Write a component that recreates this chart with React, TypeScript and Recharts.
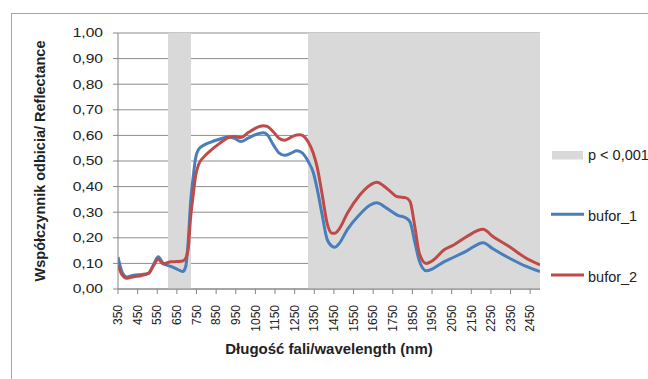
import React from "react";
import {
  ComposedChart,
  Line,
  XAxis,
  YAxis,
  CartesianGrid,
  ReferenceArea,
  Legend,
} from "recharts";

const wavelengths = [
  350, 370, 395, 430, 470, 505, 530, 555, 580, 620, 650, 680, 695, 708, 720, 732, 745, 760, 790, 820,
  870, 912, 945, 975, 1015, 1065, 1090, 1110, 1140, 1170, 1200, 1235, 1260, 1280, 1300, 1320, 1345,
  1365, 1390, 1415, 1440, 1455, 1475, 1520, 1580, 1635, 1668, 1720, 1775, 1815, 1838, 1863, 1885,
  1920, 1955, 2010, 2060, 2125, 2210, 2260, 2345, 2430, 2500,
];
const bufor1 = [
  0.125, 0.068, 0.047, 0.054, 0.057, 0.061, 0.094, 0.126, 0.1, 0.088, 0.078, 0.068, 0.088, 0.19, 0.34,
  0.43, 0.51, 0.545, 0.563, 0.573, 0.586, 0.595, 0.588, 0.576, 0.59, 0.607, 0.61, 0.603, 0.565, 0.532,
  0.522, 0.532, 0.54, 0.536, 0.522, 0.497, 0.455, 0.39, 0.29, 0.195, 0.167, 0.163, 0.176, 0.234, 0.29,
  0.328, 0.337, 0.315, 0.288, 0.278, 0.262, 0.18, 0.11, 0.071, 0.08, 0.106, 0.124, 0.148, 0.181, 0.157,
  0.12, 0.088, 0.068,
];
const bufor2 = [
  0.094, 0.056, 0.042, 0.048, 0.053, 0.061, 0.09, 0.116, 0.099, 0.106, 0.107, 0.109, 0.12, 0.16, 0.28,
  0.36, 0.44, 0.485, 0.518, 0.54, 0.57, 0.592, 0.596, 0.592, 0.612, 0.633, 0.638, 0.635, 0.615, 0.589,
  0.581, 0.594, 0.602, 0.603, 0.594, 0.573, 0.53, 0.475, 0.37, 0.258, 0.218, 0.218, 0.232, 0.298, 0.365,
  0.406, 0.417, 0.393, 0.36, 0.357, 0.342, 0.24, 0.14, 0.1, 0.112, 0.152, 0.172, 0.204, 0.233, 0.205,
  0.165, 0.12, 0.094,
];
const xTicks = [
  350, 450, 550, 650, 750, 850, 950, 1050, 1150, 1250, 1350, 1450, 1550, 1650, 1750, 1850, 1950, 2050,
  2150, 2250, 2350, 2450,
];
const yTicks = [0, 0.1, 0.2, 0.3, 0.4, 0.5, 0.6, 0.7, 0.8, 0.9, 1.0];
const bandStarts = [605, 1318];
const bandEnds = [722, 2500];
const seriesNames = ["bufor_1", "bufor_2"];
const bandName = "p < 0,001";

const data = wavelengths.map((nm, i) => ({ nm, b1: bufor1[i], b2: bufor2[i] }));

const BLUE = "#4a7ebb";
const RED = "#be4b48";
const BAND = "#d9d9d9";
const AXIS = "#868686";
const FONT = "'Liberation Sans', Arial, sans-serif";

const fmt = (v: number) => v.toFixed(2).replace(".", ",");

const YTick = (props: any) => {
  const { x, y, payload } = props;
  return (
    <g transform={`translate(${x},${y})`}>
      <text
        transform="scale(1.3,1)"
        textAnchor="end"
        dy="0.36em"
        fontFamily={FONT}
        fontSize={12}
        fill="#222"
      >
        {fmt(payload.value)}
      </text>
    </g>
  );
};

const XTick = (props: any) => {
  const { x, y, payload } = props;
  return (
    <g transform={`translate(${x},${y})`}>
      <text
        transform="rotate(-90)"
        textAnchor="end"
        dy="0.35em"
        fontFamily={FONT}
        fontSize={12}
        fill="#222"
      >
        {payload.value}
      </text>
    </g>
  );
};

const LegendContent = () => (
  <svg width={110} height={150} style={{ overflow: "visible" }}>
    <rect x={7} y={11} width={31} height={8.5} fill={BAND} />
    <text x={43} y={20} fontFamily={FONT} fontSize={14.5} fill="#222">
      {bandName}
    </text>
    <line x1={6} x2={39} y1={74.3} y2={74.3} stroke={BLUE} strokeWidth={3} />
    <text x={43} y={80.5} fontFamily={FONT} fontSize={14.5} fill="#222">
      {seriesNames[0]}
    </text>
    <line x1={6} x2={39} y1={135} y2={135} stroke={RED} strokeWidth={3} />
    <text x={43} y={141.5} fontFamily={FONT} fontSize={14.5} fill="#222">
      {seriesNames[1]}
    </text>
  </svg>
);

export default function App() {
  return (
    <div
      style={{
        position: "absolute",
        left: 0,
        top: 0,
        width: 648,
        height: 379,
        overflow: "hidden",
        background: "#fff",
      }}
    >
      <div
        style={{
          position: "absolute",
          left: 11,
          top: 13,
          width: 700,
          height: 420,
          border: "1.5px solid #a6a6a6",
        }}
      />
      <div style={{ position: "absolute", left: 0, top: 0 }}>
        <ComposedChart
          width={648}
          height={379}
          data={data}
          margin={{ top: 33, right: 108, bottom: 30, left: 0 }}
        >
          <CartesianGrid vertical={false} stroke="#8c8c8c" strokeWidth={1} />
          <ReferenceArea
            x1={bandStarts[0]}
            x2={bandEnds[0]}
            y1={0}
            y2={1}
            fill={BAND}
            fillOpacity={1}
            stroke="none"
          />
          <ReferenceArea
            x1={bandStarts[1]}
            x2={bandEnds[1]}
            y1={0}
            y2={1}
            fill={BAND}
            fillOpacity={1}
            stroke="none"
          />
          <XAxis
            dataKey="nm"
            type="number"
            domain={[350, 2500]}
            ticks={xTicks}
            interval={0}
            height={60}
            tickSize={5}
            tickMargin={11}
            tick={<XTick />}
            stroke={AXIS}
            axisLine={{ stroke: AXIS }}
            tickLine={{ stroke: AXIS }}
            allowDataOverflow
            label={{
              value: "Długość fali/wavelength (nm)",
              position: "insideBottom",
              offset: -5,
              fontFamily: FONT,
              fontSize: 15,
              fontWeight: "bold",
              fill: "#222",
            }}
          />
          <YAxis
            type="number"
            domain={[0, 1]}
            ticks={yTicks}
            interval={0}
            width={118}
            tickSize={5}
            tickMargin={10}
            tick={<YTick />}
            axisLine={{ stroke: AXIS }}
            tickLine={{ stroke: AXIS }}
            label={{
              content: () => (
                <text
                  x={45}
                  y={161}
                  transform="rotate(-90,45,161)"
                  textAnchor="middle"
                  fontFamily={FONT}
                  fontSize={14.5}
                  fontWeight="bold"
                  fill="#222"
                >
                  Współczynnik odbicia/ Reflectance
                </text>
              ),
            }}
          />
          <Line
            type="monotone"
            dataKey="b1"
            name={seriesNames[0]}
            stroke={BLUE}
            strokeWidth={3}
            dot={false}
            isAnimationActive={false}
          />
          <Line
            type="monotone"
            dataKey="b2"
            name={seriesNames[1]}
            stroke={RED}
            strokeWidth={3}
            dot={false}
            isAnimationActive={false}
          />
          <Legend
            layout="horizontal"
            verticalAlign="middle"
            align="center"
            content={<LegendContent />}
            wrapperStyle={{ position: "absolute", left: 545, top: 140, width: 110, height: 150 }}
          />
        </ComposedChart>
      </div>
    </div>
  );
}
